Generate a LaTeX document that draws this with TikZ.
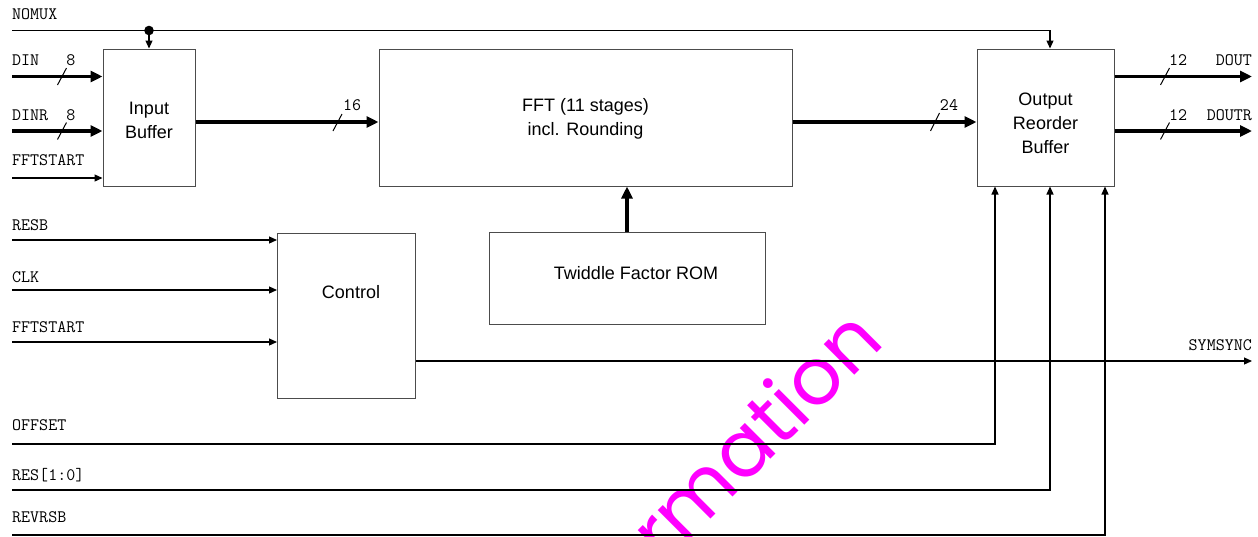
\documentclass[tikz,border=0pt]{standalone}
\usepackage{fontspec}
\setmainfont{Liberation Sans}
\newfontfamily\wmfont{Poppins}
\usetikzlibrary{arrows.meta,calc}
\definecolor{wmmag}{RGB}{255,0,255}
\begin{document}
\begin{tikzpicture}[x=1pt,y=-1pt,
  blk/.style={draw=black!70, line width=1pt, inner sep=0pt},
  sig/.style={line width=1.2pt, -{Triangle[length=8pt,width=7pt]}},
  bus/.style={line width=3.6pt, -{Triangle[length=12pt,width=11pt]}},
  wire/.style={line width=1.2pt},
  lbl/.style={font=\ttfamily\fontsize{17.5}{17.5}\selectfont, inner sep=0pt, anchor=west},
  num/.style={font=\ttfamily\fontsize{17.5}{17.5}\selectfont, inner sep=0pt},
  txt/.style={font=\fontsize{18}{24}\selectfont, align=center, inner sep=0pt},
  slash/.style={line width=1pt}]
\useasboundingbox (0,0) rectangle (1258,536);
% watermark
\begin{scope}
\clip (0,0) rectangle (1258,536);
\node[rotate=45, anchor=base east, text=wmmag, font=\wmfont\fontsize{79}{79}\selectfont, inner sep=0pt] (wm) at (886,344) {rmation};
\end{scope}
% blocks
\node[blk, minimum width=92pt, minimum height=137pt] (ib) at (149,117.5) {};
\node[blk, minimum width=413pt, minimum height=137pt] (fft) at (585.5,117.5) {};
\node[blk, minimum width=137pt, minimum height=137pt] (ob) at (1045.5,117.5) {};
\node[blk, minimum width=138pt, minimum height=165pt] (ctl) at (346.5,315.5) {};
\node[blk, minimum width=276pt, minimum height=92pt] (tw) at (627,278.5) {};
\node[txt] (ibt) at (149,120) {Input\\Buffer};
\node[txt] (fftt) at (585.5,119) {FFT (11 stages)\\incl. Rounding};
\node[txt] (obt) at (1045.5,123) {Output\\Reorder\\Buffer};
\node[txt] (ctlt) at (351,292) {Control};
\node[txt] (twt) at (636,273) {Twiddle Factor ROM};
% left labels
\node[lbl] (lnomux) at (12,14) {NOMUX};
\node[lbl] (ldin) at (12,60) {DIN};
\node[lbl] (ldinr) at (12,115) {DINR};
\node[lbl] (lfs1) at (12,160) {FFTSTART};
\node[lbl] (lresb) at (12,225) {RESB};
\node[lbl] (lclk) at (12,277) {CLK};
\node[lbl] (lfs2) at (12,327) {FFTSTART};
\node[lbl] (loff) at (12,425) {OFFSET};
\node[lbl] (lres) at (12,475) {RES[1:0]};
\node[lbl] (lrev) at (12,517) {REVRSB};
% right labels
\node[lbl, anchor=east] (ldout) at (1252,60) {DOUT};
\node[lbl, anchor=east] (ldoutr) at (1252,115) {DOUTR};
\node[lbl, anchor=east] (lsym) at (1252,345) {SYMSYNC};
% bus widths
\node[num] (n8a) at (71,60) {8};
\node[num] (n8b) at (71,115) {8};
\node[num] (n16) at (352,105) {16};
\node[num] (n24) at (949,105) {24};
\node[num] (n12a) at (1178,60) {12};
\node[num] (n12b) at (1178,115) {12};
% wire start/end coordinates
\coordinate (snomux) at (12,30.5);
\coordinate (sdin) at (12,76.5);
\coordinate (sdinr) at (12,131);
\coordinate (sfs1) at (12,178);
\coordinate (sresb) at (12,240);
\coordinate (sclk) at (12,290);
\coordinate (sfs2) at (12,342);
\coordinate (soff) at (12,444);
\coordinate (sres) at (12,490);
\coordinate (srev) at (12,535);
\coordinate (edout) at (1252,76.5);
\coordinate (edoutr) at (1252,131);
\coordinate (esym) at (1252,361);
\coordinate (dot) at (149,30.5);
% connectors
\draw[sig] (snomux) -| ([xshift=4.5pt]ob.north);
\fill (dot) circle (4.8pt);
\draw[sig] (dot) -- (ib.north);
\draw[bus] (sdin) -- (sdin -| ib.west);
\draw[bus] (sdinr) -- (sdinr -| ib.west);
\draw[sig] (sfs1) -- (sfs1 -| ib.west);
\draw[bus] (ib.east |- 0,122) -- (fft.west |- 0,122);
\draw[bus] (fft.east |- 0,122) -- (ob.west |- 0,122);
\draw[bus] (tw.north) -- (tw.north |- fft.south);
\draw[bus] (ob.east |- edout) -- (edout);
\draw[bus] (ob.east |- edoutr) -- (edoutr);
\draw[sig] (sresb) -- (sresb -| ctl.west);
\draw[sig] (sclk) -- (sclk -| ctl.west);
\draw[sig] (sfs2) -- (sfs2 -| ctl.west);
\draw[sig] (ctl.east |- esym) -- (esym);
\draw[sig] (soff) -| ([xshift=-50.5pt]ob.south);
\draw[sig] (sres) -| ([xshift=4.5pt]ob.south);
\draw[sig] (srev) -| ([xshift=59.5pt]ob.south);
% bus slashes
\draw[slash] (57.5,85) -- (66.5,68);
\draw[slash] (57.5,139.5) -- (66.5,122.5);
\draw[slash] (333,131) -- (342,114);
\draw[slash] (930.5,131) -- (939.5,113);
\draw[slash] (1160.5,85) -- (1169.5,68);
\draw[slash] (1160.5,139.5) -- (1169.5,122.5);
\end{tikzpicture}
\end{document}
